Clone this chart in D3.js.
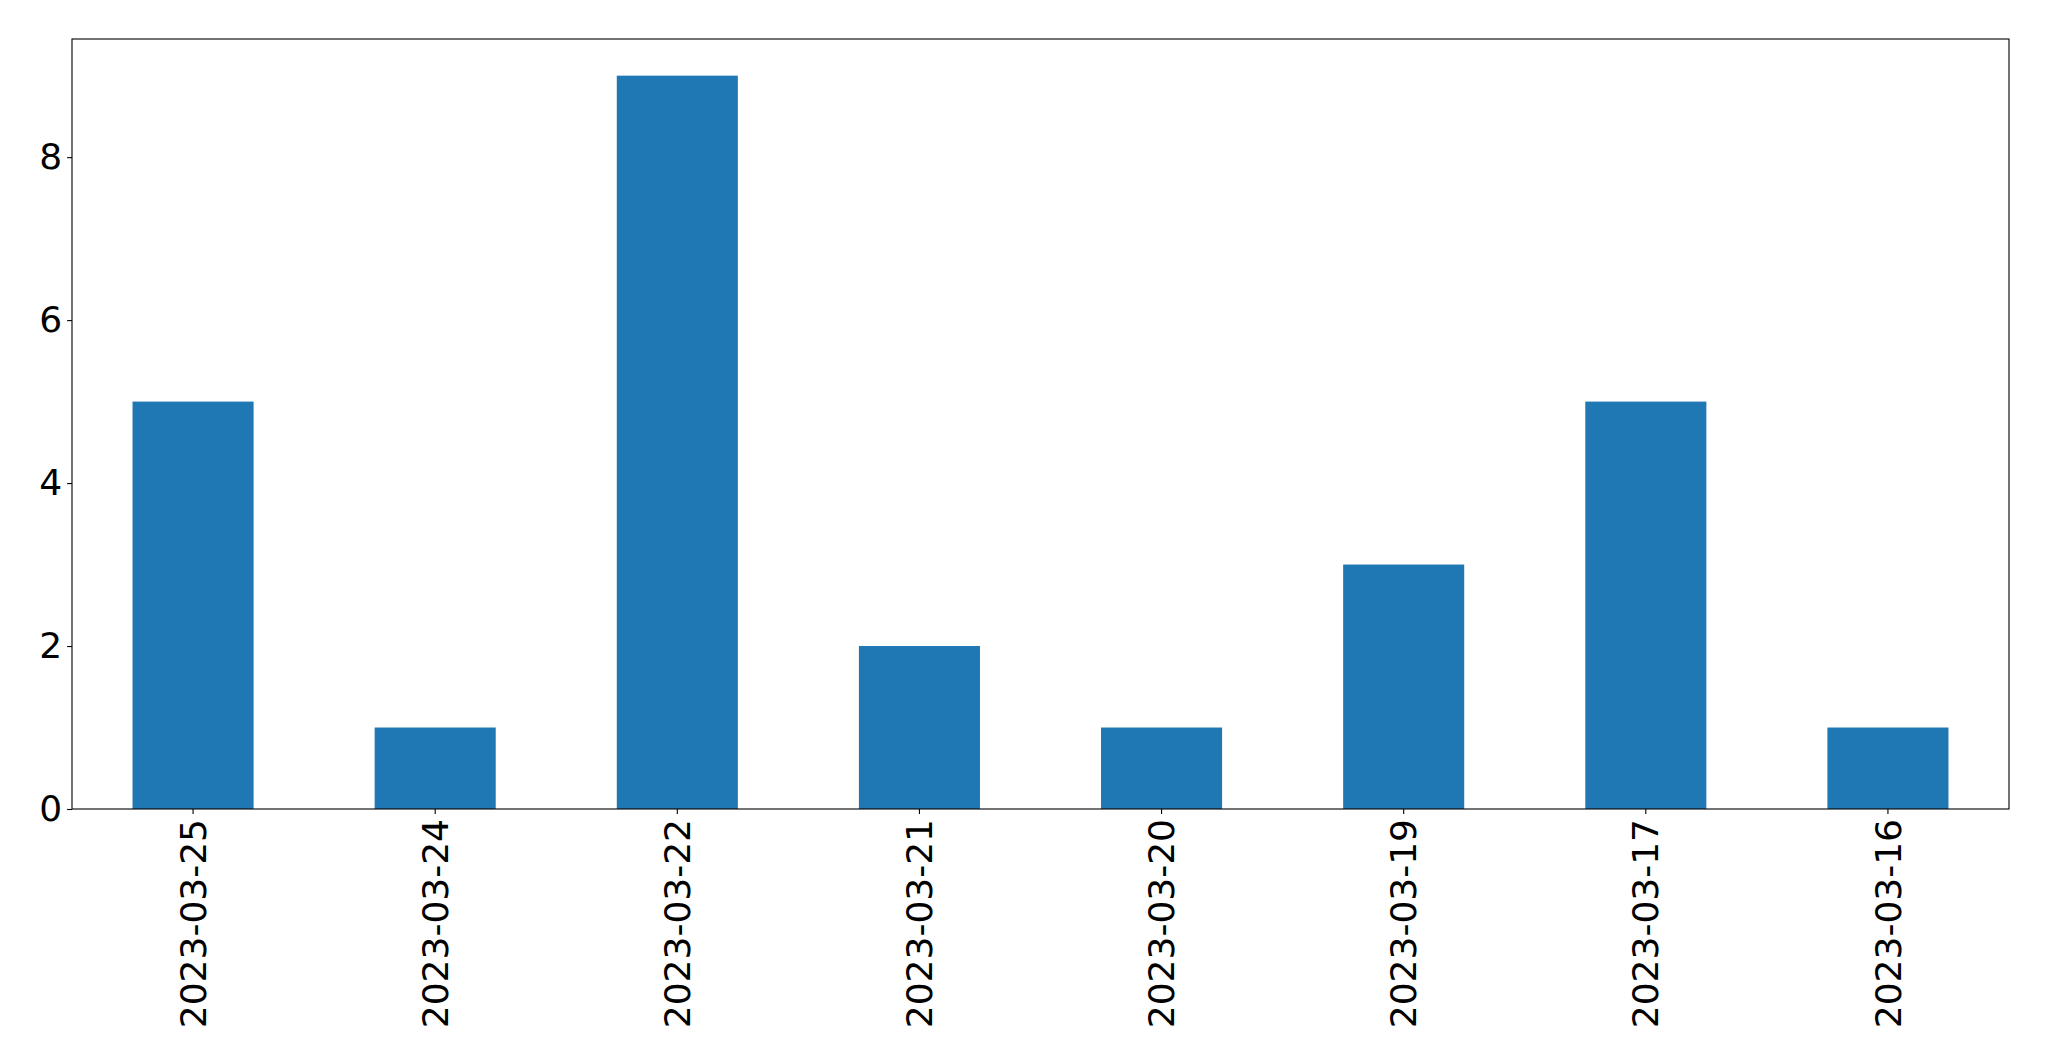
<!DOCTYPE html>
<html>
<head>
<meta charset="utf-8">
<script src="https://cdn.jsdelivr.net/npm/d3@7"></script>
<style>
  html, body { margin: 0; padding: 0; background: #fff; }
  svg { display: block; }
</style>
</head>
<body>
<script>
const categories = ["2023-03-25", "2023-03-24", "2023-03-22", "2023-03-21", "2023-03-20", "2023-03-19", "2023-03-17", "2023-03-16"];
const values = [5, 1, 9, 2, 1, 3, 5, 1];
const yTicks = [0, 2, 4, 6, 8];

const W = 2049, H = 1061;
const margin = { left: 72, right: 2049 - 2009, top: 39, bottom: 1061 - 809 };
const iw = W - margin.left - margin.right;
const ih = H - margin.top - margin.bottom;

const svg = d3.select("body").append("svg").attr("width", W).attr("height", H);
const g = svg.append("g").attr("transform", `translate(${margin.left},${margin.top})`);

const x = d3.scaleBand().domain(categories).range([0, iw]).paddingInner(0.5).paddingOuter(0.25);
const y = d3.scaleLinear().domain([0, d3.max(values) * 1.05]).range([ih, 0]);

g.selectAll("rect.bar").data(values).enter().append("rect")
  .attr("class", "bar")
  .attr("x", (d, i) => x(categories[i]))
  .attr("width", x.bandwidth())
  .attr("y", d => y(d))
  .attr("height", d => y(0) - y(d))
  .attr("fill", "#1f77b4");

const font = "'DejaVu Sans', sans-serif";
const fs = 36;

const yAxis = g.append("g").call(d3.axisLeft(y).tickValues(yTicks).tickFormat(d3.format("d")).tickSize(4.9).tickPadding(5));
yAxis.select(".domain").remove();
yAxis.selectAll("line").attr("stroke", "#000").attr("stroke-width", 1.1);
yAxis.selectAll("text").attr("font-family", font).attr("font-size", fs).attr("fill", "#000");

const xAxis = g.append("g").attr("transform", `translate(0,${ih})`)
  .call(d3.axisBottom(x).tickSize(4.9).tickPadding(5));
xAxis.select(".domain").remove();
xAxis.selectAll("line").attr("stroke", "#000").attr("stroke-width", 1.1);
xAxis.selectAll("text")
  .attr("font-family", font).attr("font-size", fs).attr("fill", "#000")
  .attr("text-anchor", "end")
  .attr("transform", "rotate(-90)")
  .attr("x", -10)
  .attr("y", 0)
  .attr("dy", "0.35em");

g.append("rect").attr("x", 0).attr("y", 0).attr("width", iw).attr("height", ih)
  .attr("fill", "none").attr("stroke", "#000").attr("stroke-width", 1.1);
</script>
</body>
</html>
